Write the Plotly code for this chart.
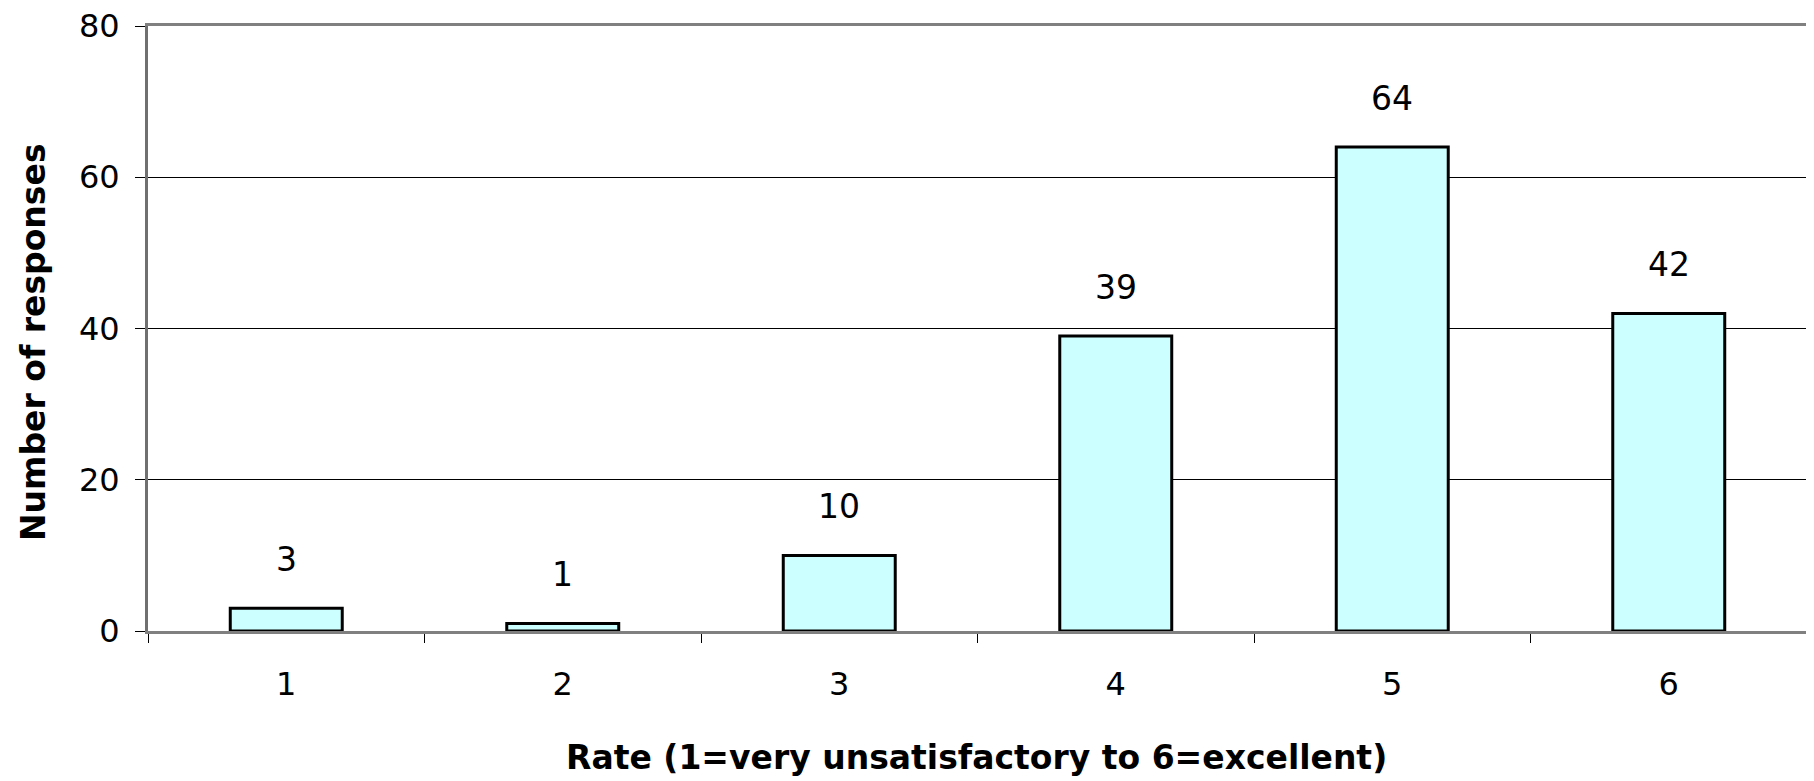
import plotly.graph_objects as go

categories = ["1", "2", "3", "4", "5", "6"]
responses = [3, 1, 10, 39, 64, 42]
y_ticks = [0, 20, 40, 60, 80]
x_title = "Rate (1=very unsatisfactory to 6=excellent)"
y_title = "Number of responses"

OFF = 8  # page body margin
W, H = 1814 - OFF, 781 - OFF
L, T = 148 - OFF, 26 - OFF
R = W - (1807 - OFF)
B = H - (631 - OFF)
pw, ph = W - L - R, H - T - B
PL, PB = 148, 631  # plot-area left / bottom in page pixels

fig = go.Figure()
fig.add_trace(go.Bar(
    x=categories, y=responses,
    marker=dict(color="#CCFFFF", line=dict(color="#000000", width=3)),
    hoverinfo="x+y",
))

for i, v in enumerate(responses):
    fig.add_annotation(x=i, y=v, text=str(v), showarrow=False,
                       xanchor="center", yanchor="bottom", yshift=27,
                       font=dict(family="DejaVu Sans", size=33, color="#000000"))

fig.add_annotation(xref="paper", yref="paper",
                   x=(33 - PL) / pw, y=(PB - 342) / ph,
                   text=y_title, textangle=-90, showarrow=False,
                   xanchor="center", yanchor="middle",
                   font=dict(family="DejaVu Sans", size=33, color="#000000", weight="bold"))
fig.add_annotation(xref="paper", yref="paper",
                   x=(976 - PL) / pw, y=(PB - 758) / ph,
                   text=x_title, showarrow=False,
                   xanchor="center", yanchor="middle",
                   font=dict(family="DejaVu Sans", size=33, color="#000000", weight="bold"))

fig.update_layout(
    width=W, height=H,
    margin=dict(l=L, r=R, t=T, b=B, pad=0, autoexpand=False),
    paper_bgcolor="white", plot_bgcolor="white",
    bargap=0.595, showlegend=False,
    font=dict(family="DejaVu Sans", size=32, color="#000000"),
)
fig.update_xaxes(
    type="category", range=[-0.5, 5.5], automargin=False,
    tickson="boundaries", ticks="outside", ticklen=9, tickwidth=1, tickcolor="#000000",
    showline=True, linecolor="#808080", linewidth=3, mirror=True,
    showgrid=False, zeroline=False,
    tickfont=dict(family="DejaVu Sans", size=32, color="#000000"),
    ticklabelstandoff=23, ticklabeloverflow="allow",
)
fig.update_yaxes(
    range=[0, 80], tickvals=y_ticks, automargin=False,
    ticks="outside", ticklen=10, tickwidth=1, tickcolor="#000000",
    showline=True, linecolor="#707070", linewidth=3, mirror=True,
    showgrid=True, gridcolor="#000000", gridwidth=1, zeroline=False,
    tickfont=dict(family="DejaVu Sans", size=32, color="#000000"),
    ticklabelstandoff=9, ticklabeloverflow="allow",
)

fig.write_html("out.html")
